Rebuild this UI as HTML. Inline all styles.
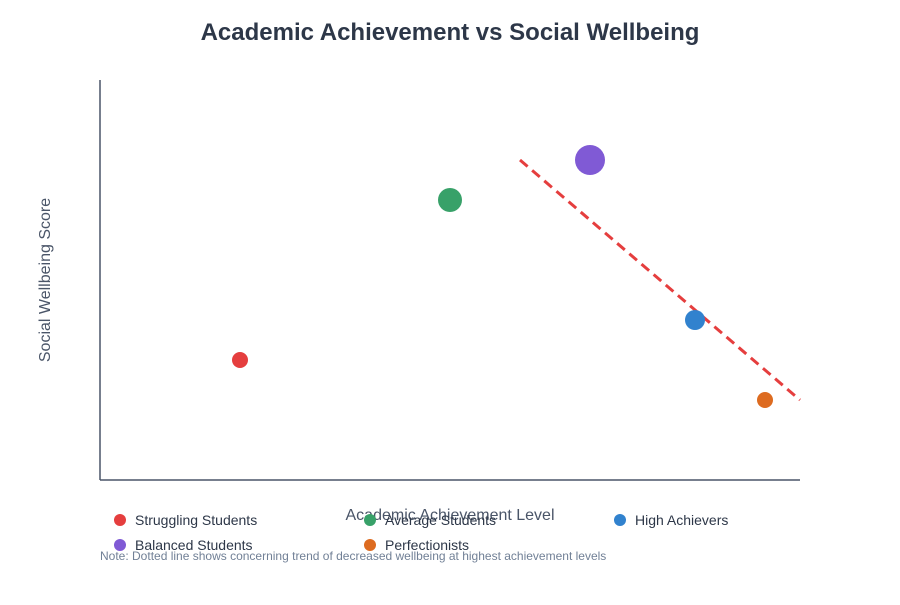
<!DOCTYPE html>
<html><head><meta charset="utf-8"><style>
body{margin:0;background:#fff;font-family:"Liberation Sans",sans-serif;}
svg text{font-family:"Liberation Sans",sans-serif;}
</style></head><body>
<svg width="900" height="600" xmlns="http://www.w3.org/2000/svg">
<text x="450" y="40" text-anchor="middle" font-size="24" font-weight="bold" fill="#2d3748">Academic Achievement vs Social Wellbeing</text>
<line x1="100" y1="80" x2="100" y2="480" stroke="#4a5568" stroke-width="1.5"/>
<line x1="100" y1="480" x2="800" y2="480" stroke="#4a5568" stroke-width="1.5"/>
<text x="450" y="520" text-anchor="middle" font-size="16" fill="#4a5568">Academic Achievement Level</text>
<text transform="translate(50,280) rotate(-90)" text-anchor="middle" font-size="16" fill="#4a5568">Social Wellbeing Score</text>
<g id="marks"></g>
<g id="legend"></g>
<text x="100" y="560" font-size="12" fill="#718096">Note: Dotted line shows concerning trend of decreased wellbeing at highest achievement levels</text>
</svg>
<script>
const categories=["Struggling Students","Average Students","High Achievers","Balanced Students","Perfectionists"];
const achievement=[2,5,8.5,7,9.5];
const wellbeing=[3,7,4,8,2];
const sizes=[8,12,10,15,8];
const colors=["#e53e3e","#38a169","#3182ce","#805ad5","#dd6b20"];
const trendX=[6,10];
const trendY=[8,2];
const NS="http://www.w3.org/2000/svg";
const xs=v=>100+v*70, ys=v=>480-v*40;
const g=document.getElementById("marks");
const tl=document.createElementNS(NS,"line");
tl.setAttribute("x1",xs(trendX[0]));tl.setAttribute("y1",ys(trendY[0]));
tl.setAttribute("x2",xs(trendX[1]));tl.setAttribute("y2",ys(trendY[1]));
tl.setAttribute("stroke","#e53e3e");tl.setAttribute("stroke-width","3");tl.setAttribute("stroke-dasharray","10,6");


g.appendChild(tl);
categories.forEach((c,i)=>{
 const p=document.createElementNS(NS,"circle");
 p.setAttribute("cx",xs(achievement[i]));p.setAttribute("cy",ys(wellbeing[i]));
 p.setAttribute("r",sizes[i]);p.setAttribute("fill",colors[i]);
 
 
 g.appendChild(p);
});
const lg=document.getElementById("legend");
categories.forEach((c,i)=>{
 const x=120+(i%3)*250, y=520+Math.floor(i/3)*25;
 const d=document.createElementNS(NS,"circle");
 d.setAttribute("cx",x);d.setAttribute("cy",y);d.setAttribute("r",6);d.setAttribute("fill",colors[i]);
 
 
 lg.appendChild(d);
 const t=document.createElementNS(NS,"text");
 t.setAttribute("x",x+15);t.setAttribute("y",y+5);t.setAttribute("font-size","14");t.setAttribute("fill","#2d3748");
 t.textContent=c;
 
 
 lg.appendChild(t);
});
</script>
</body></html>
